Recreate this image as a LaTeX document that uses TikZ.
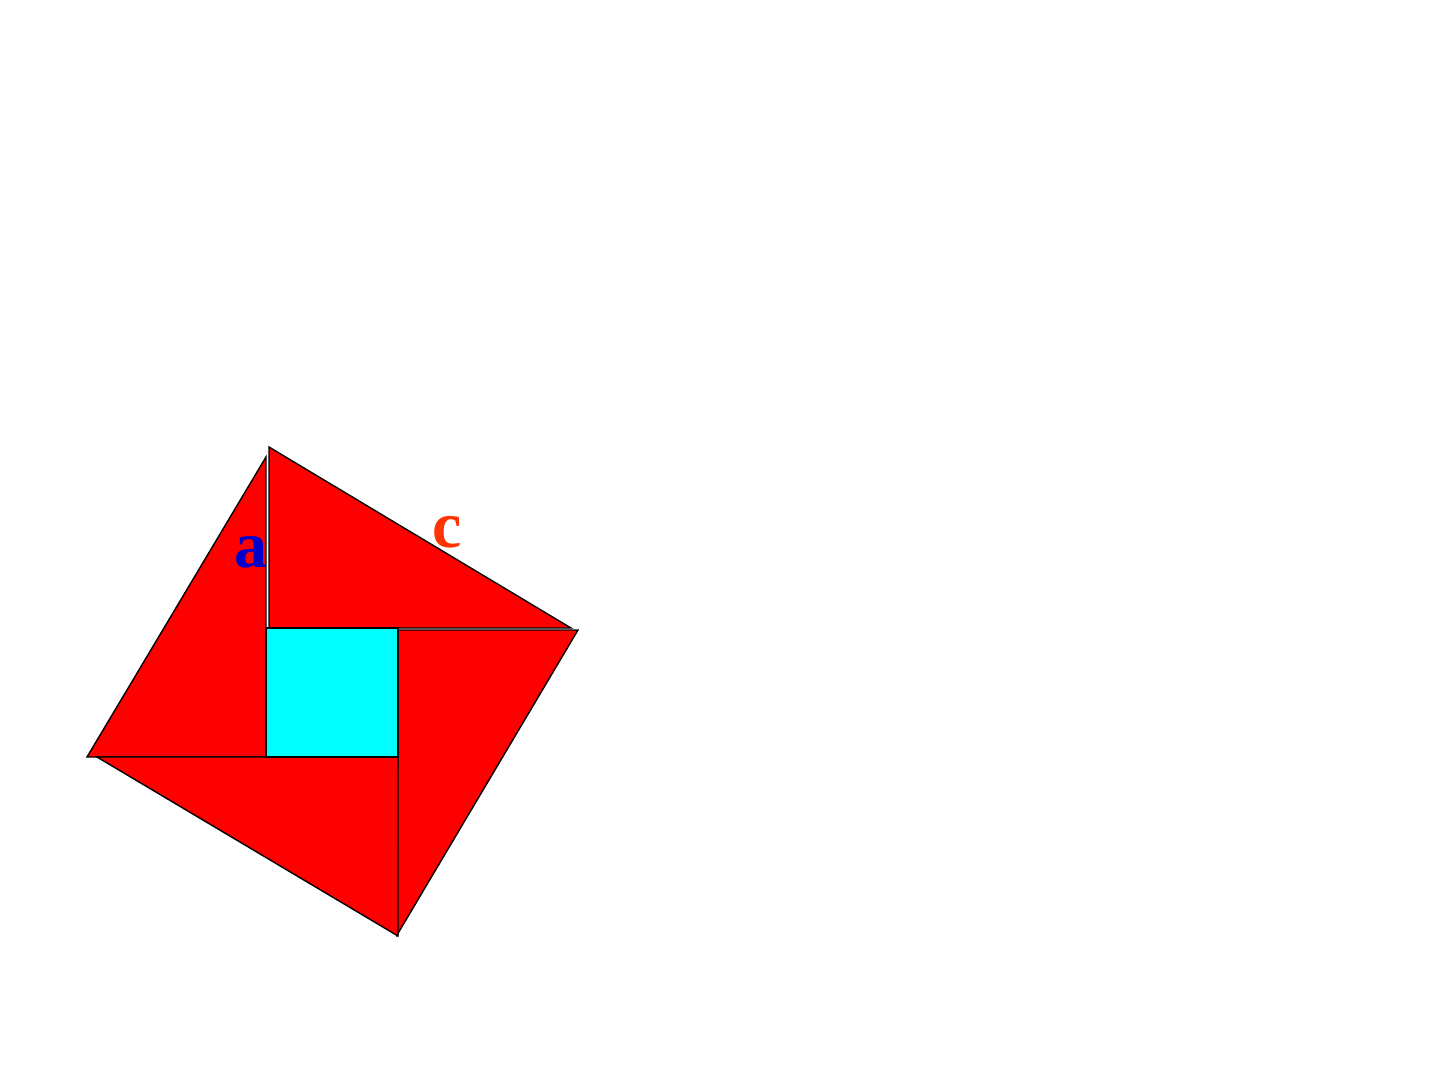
\documentclass[tikz,border=0pt]{standalone}
\usepackage{fontspec}
\setmainfont{Liberation Serif}
\definecolor{tri}{HTML}{FF0000}
\definecolor{sq}{HTML}{00FFFF}
\definecolor{labA}{HTML}{0000CC}
\definecolor{labC}{HTML}{FF3300}
\begin{document}
\begin{tikzpicture}[x=1pt,y=-1pt,
  piece/.style={fill=tri,draw=black,line width=1.4pt,line join=miter},
  core/.style={fill=sq,draw=black,line width=1.4pt},
  lab/.style={font=\bfseries\fontsize{66}{66}\selectfont,inner sep=0pt,anchor=base}]
\useasboundingbox (0,0) rectangle (1440,1080);
% top triangle
\coordinate (t1) at (269,447);
\coordinate (t2) at (269,628);
\coordinate (t3) at (571,628);
% left triangle
\coordinate (l1) at (266,457);
\coordinate (l2) at (87,757);
\coordinate (l3) at (266,757);
% right triangle
\coordinate (r1) at (398,630);
\coordinate (r2) at (578,630);
\coordinate (r3) at (397,935);
% bottom triangle
\coordinate (b1) at (97,757);
\coordinate (b2) at (398,757);
\coordinate (b3) at (398,936);
% square
\coordinate (s1) at (266,628);
\coordinate (s2) at (398,757);

\draw[piece] (t1) -- (t2) -- (t3) -- cycle;
\draw[piece] (l1) -- (l2) -- (l3) -- cycle;
\draw[piece] (r1) -- (r2) -- (r3) -- cycle;
\draw[piece] (b1) -- (b2) -- (b3) -- cycle;
\draw[core] (s1) rectangle (s2);

\node[lab,text=labA] (la) at (251,567) {a};
\node[lab,text=labC] (lc) at (447,547) {c};
\end{tikzpicture}
\end{document}
